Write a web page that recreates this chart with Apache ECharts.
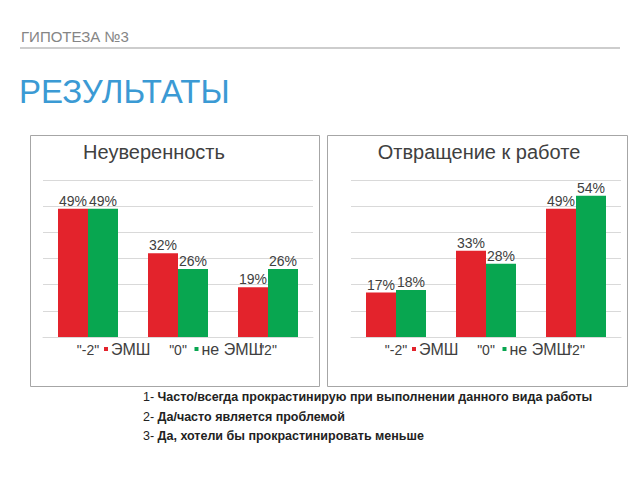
<!DOCTYPE html>
<html>
<head>
<meta charset="utf-8">
<script src="https://cdn.jsdelivr.net/npm/echarts@6/dist/echarts.min.js"></script>
<style>
html,body{margin:0;padding:0;background:#fff;}
#chart{width:640px;height:480px;}
</style>
</head>
<body>
<div id="chart"></div>
<script>
var categories = ['"-2"', '"0"', '"2"'];
var seriesNames = ['ЭМШ', 'не ЭМШ'];
var chartTitles = ['Неуверенность', 'Отвращение к работе'];
var emshUncertainty = [49, 32, 19];
var notEmshUncertainty = [49, 26, 26];
var emshAversion = [17, 33, 49];
var notEmshAversion = [18, 28, 54];
var headerSmall = 'ГИПОТЕЗА №3';
var headerBig = 'РЕЗУЛЬТАТЫ';
var footerNums = ['1- ', '2- ', '3- '];
var footerTexts = [
  'Часто/всегда прокрастинирую при выполнении данного вида работы',
  'Да/часто является проблемой',
  'Да, хотели бы прокрастинировать меньше'
];

var FONT = '"Liberation Sans", Arial, sans-serif';
var RED = '#E3232C';
var GREEN = '#08A650';
var LABEL = '#404040';

var grids = [
  {left: 43, top: 180, width: 270, height: 157},
  {left: 351, top: 180, width: 270, height: 157}
];

function xAxis(i) {
  return {
    type: 'category', gridIndex: i, data: categories,
    axisTick: {show: false},
    axisLine: {lineStyle: {color: '#d9d9d9'}},
    axisLabel: {color: LABEL, fontSize: 14, fontFamily: FONT, margin: 6}
  };
}
function yAxis(i) {
  return {
    type: 'value', gridIndex: i, min: 0, max: 60, interval: 10,
    axisLabel: {show: false}, axisLine: {show: false}, axisTick: {show: false},
    splitLine: {lineStyle: {color: '#d9d9d9'}}
  };
}
function bar(name, data, i, color) {
  return {
    type: 'bar', name: name, data: data, xAxisIndex: i, yAxisIndex: i,
    barWidth: 30, barGap: '0%',
    itemStyle: {color: color},
    label: {show: true, position: 'top', distance: 1, formatter: '{c}%',
            color: LABEL, fontSize: 14, fontFamily: FONT}
  };
}
function legend(left) {
  return {
    left: left, top: 341, padding: 0, itemGap: 44,
    icon: 'rect', itemWidth: 4, itemHeight: 4,
    data: seriesNames,
    textStyle: {color: LABEL, fontSize: 16, fontFamily: FONT, padding: [0,0,0,-2]},
    selectedMode: false
  };
}

var graphic = [
  {type: 'text', left: 21, top: 29, style: {text: headerSmall, fontSize: 15, fontFamily: FONT, fill: '#858585'}},
  {type: 'line', shape: {x1: 20, y1: 48, x2: 620, y2: 48}, style: {stroke: '#bdbdbd', lineWidth: 1.5}},
  {type: 'text', left: 19, top: 75, style: {text: headerBig, fontSize: 33, fontFamily: FONT, fill: '#3b9ad4'}},
  {type: 'rect', shape: {x: 30.5, y: 135.5, width: 289, height: 251}, style: {fill: 'none', stroke: '#a6a6a6', lineWidth: 1}, z: -1},
  {type: 'rect', shape: {x: 327.5, y: 135.5, width: 300, height: 251}, style: {fill: 'none', stroke: '#a6a6a6', lineWidth: 1}, z: -1},
  {type: 'text', x: 154, y: 152, style: {text: chartTitles[0], fontSize: 20, fontFamily: FONT, fill: LABEL, align: 'center', verticalAlign: 'middle'}},
  {type: 'text', x: 479, y: 152, style: {text: chartTitles[1], fontSize: 20, fontFamily: FONT, fill: LABEL, align: 'center', verticalAlign: 'middle'}}
];
var footerY = [397, 417, 436];
for (var k = 0; k < footerTexts.length; k++) {
  graphic.push({
    type: 'text', x: 143, y: footerY[k],
    style: {
      text: '{n|' + footerNums[k] + '}{b|' + footerTexts[k] + '}',
      verticalAlign: 'middle',
      rich: {
        n: {fontSize: 12.5, fontFamily: FONT, fill: '#222', fontWeight: 'normal'},
        b: {fontSize: 12.5, fontFamily: FONT, fill: '#222', fontWeight: 'bold'}
      }
    }
  });
}

var chart = echarts.init(document.getElementById('chart'), null, {renderer: 'svg'});
chart.setOption({
  backgroundColor: '#fff',
  animation: false,
  grid: grids,
  xAxis: [xAxis(0), xAxis(1)],
  yAxis: [yAxis(0), yAxis(1)],
  legend: [legend(104), legend(412)],
  series: [
    bar(seriesNames[0], emshUncertainty, 0, RED),
    bar(seriesNames[1], notEmshUncertainty, 0, GREEN),
    bar(seriesNames[0], emshAversion, 1, RED),
    bar(seriesNames[1], notEmshAversion, 1, GREEN)
  ],
  graphic: graphic
});
</script>
</body>
</html>
